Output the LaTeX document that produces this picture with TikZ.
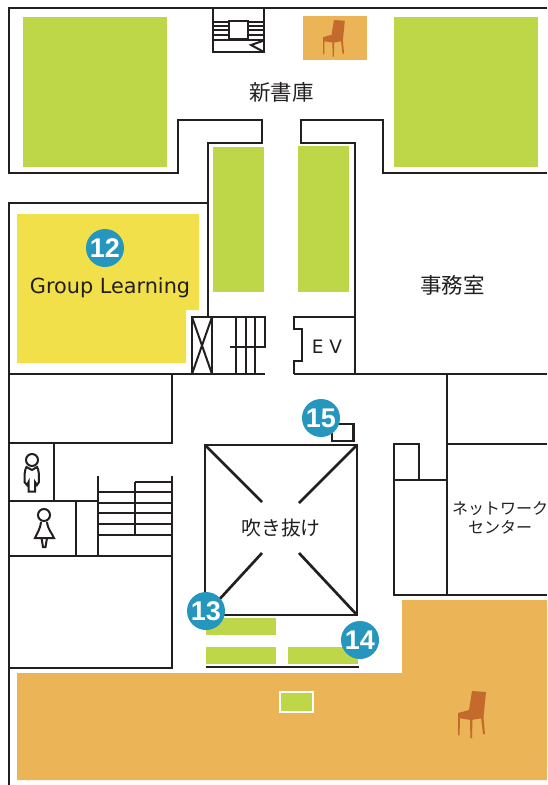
\documentclass[tikz,border=0pt]{standalone}
\usepackage{fontspec}
\setmainfont{DejaVu Sans}
\newfontfamily\cjkfont{Noto Sans CJK JP}[Scale=1]
\newfontfamily\numfont{Liberation Sans}[Scale=1]
\definecolor{wall}{HTML}{231F20}
\definecolor{shelf}{HTML}{BDD748}
\definecolor{lounge}{HTML}{EAB457}
\definecolor{chairc}{HTML}{C46A2C}
\definecolor{learn}{HTML}{F2E04A}
\definecolor{badge}{HTML}{2596BE}
\tikzset{
  wallline/.style={draw=wall,line width=2.7pt,line join=miter},
  thinline/.style={draw=wall,line width=2pt},
  shelfbox/.style={fill=shelf,draw=none},
  loungebox/.style={fill=lounge,draw=none},
  badgenode/.style={circle,fill=badge,draw=none,minimum size=38pt,inner sep=0pt,text=white,font=\numfont\bfseries\fontsize{27}{27}\selectfont},
  jplabel/.style={text=wall,inner sep=0pt,align=center},
  chairpic/.pic={
    \fill[chairc] (14,0) -- (28,1) -- (25.5,26) -- (25,27) -- (13,29) -- (0,27) -- (0,22) -- (11,19) -- cycle;
    \fill[chairc] (0,26) -- (2,26) -- (1.6,44) -- (0.2,44) -- cycle;
    \fill[chairc] (12,28) -- (14.5,28) -- (14,47) -- (12.4,47) -- cycle;
    \fill[chairc] (23,26) -- (25.5,26) -- (27,43) -- (25,43) -- cycle;
  }
}
\begin{document}
\begin{tikzpicture}[x=1pt,y=-1pt]
\useasboundingbox (0,0) rectangle (547,785);
\fill[white] (0,0) rectangle (547,785);
% coloured areas
\fill[shelfbox] (23,17) rectangle (167,167);
\fill[shelfbox] (394,17) rectangle (538,167);
\fill[shelfbox] (213,147) rectangle (264,292);
\fill[shelfbox] (298,146) rectangle (349,292);
\fill[learn] (17,214) -- (199,214) -- (199,310) -- (186,310) -- (186,363) -- (17,363) -- cycle;
\fill[loungebox] (303,16) rectangle (367,60);
\fill[loungebox] (402,600) -- (547,600) -- (547,780) -- (17,780) -- (17,673) -- (402,673) -- cycle;
\fill[shelfbox] (206,618) rectangle (276,635);
\fill[shelfbox] (206,647) rectangle (276,664);
\fill[shelfbox] (288,647) rectangle (358,664);
\draw[white,line width=2pt,fill=shelf] (280,691.5) rectangle (312.5,711.5);
% upper outline
\draw[wallline] (547,8) -- (9,8) -- (9,173) -- (178,173) -- (178,120) -- (262,120) -- (262,143) -- (208,143) -- (208,317);
\draw[wallline] (547,173) -- (383,173) -- (383,120) -- (301,120) -- (301,143) -- (355,143) -- (355,374);
\draw[wallline] (208,203) -- (9,203) -- (9,785);
\draw[wallline] (9,374) -- (265,374);
\draw[wallline] (294,374) -- (547,374);
% top stair
\draw[thinline] (213,8) -- (213,52) -- (264,52) -- (264,8);
\draw[thinline] (213,40) -- (264,40);
\draw[thinline] (229,21) rectangle (248,39);
\foreach \yy in {22,26,30,35}{\draw[thinline] (213,\yy) -- (229,\yy); \draw[thinline] (248,\yy) -- (264,\yy);}
\draw[thinline] (264,40.5) -- (251,45) -- (264,52);
% lower-left stair block
\draw[wallline] (192,317) rectangle (212,374);
\draw[thinline] (192,317) -- (212,374);
\draw[thinline] (212,317) -- (192,374);
\draw[thinline] (212,317) -- (265,317) -- (265,347) -- (230,347);
\foreach \xx in {236,246,255}{\draw[thinline] (\xx,317) -- (\xx,374);}
% EV
\draw[wallline] (355,317) -- (294,317) -- (294,329) -- (302,329) -- (302,361) -- (294,361) -- (294,374);
% small box
\draw[wallline] (332,424) rectangle (353.5,441);
% atrium
\draw[wallline] (205,445) rectangle (357,615);
\draw[wallline] (205,445) -- (262,502);
\draw[wallline] (357,445) -- (299,503);
\draw[wallline] (205,615) -- (262,553);
\draw[wallline] (357,615) -- (299,553);
% left block
\draw[wallline] (172,374) -- (172,443) -- (9,443);
\draw[wallline] (54,443) -- (54,501);
\draw[wallline] (9,501) -- (98,501);
\draw[wallline] (76,501) -- (76,556);
\draw[wallline] (98,476) -- (98,556);
\draw[wallline] (172,476) -- (172,668) -- (9,668);
\draw[wallline] (9,556) -- (172,556);
\draw[thinline] (135,482) -- (171,482);
\draw[thinline] (135,482) -- (135,535);
\foreach \yy in {492,503,513,524,535}{\draw[thinline] (98,\yy) -- (171,\yy);}
% right block
\draw[wallline] (447,374) -- (447,595);
\draw[wallline] (447,444) -- (547,444);
\draw[wallline] (394,480) -- (447,480);
\draw[wallline] (394,480) -- (394,444) -- (419,444) -- (419,480);
\draw[wallline] (394,480) -- (394,595) -- (547,595);
% bench line
\draw[thinline] (206,667) -- (359,667);
% toilet icons
\draw[thinline] (32,460) circle (6);
\draw[thinline] (26.5,467) .. controls (24.5,470) and (24.5,475) .. (24.5,482) -- (27,485) -- (28.5,482) -- (28.5,491.5) -- (35,491.5) -- (35,482) -- (37,485) -- (39,482) .. controls (39,475) and (39,470) .. (37,467) -- (32,470) -- cycle;
\draw[thinline] (44,515) circle (6);
\draw[thinline] (41,522) .. controls (40,530) and (37,533) .. (35,538) -- (54,538) .. controls (52,533) and (48,530) .. (47,522);
\draw[thinline] (41.5,538) -- (43,547) -- (45.5,547) -- (47,538);
% chairs
\pic[scale=.78,x=1pt,y=-1pt] at (323,20) {chairpic};
\pic[x=1pt,y=-1pt] at (458,691) {chairpic};
% labels
\node[jplabel,font=\cjkfont\fontsize{21.5}{21.5}\selectfont] (shinshoko) at (281.5,92) {新書庫};
\node[jplabel,font=\cjkfont\fontsize{21.5}{21.5}\selectfont] (jimushitsu) at (452.5,285) {事務室};
\node[jplabel,font=\cjkfont\fontsize{19.8}{19.8}\selectfont] (fukinuke) at (281,528) {吹き抜け};
\node[jplabel,font=\cjkfont\fontsize{16}{19}\selectfont] (network) at (500,518) {ネットワーク\\センター};
\node[text=wall,inner sep=0pt,font=\fontsize{18.5}{18.5}\selectfont] (ev) at (327,347) {E V};
\node[text=wall,inner sep=0pt,font=\fontsize{20.8}{20.8}\selectfont] (group) at (110,288) {Group Learning};
% badges
\node[badgenode] (b12) at (105,248) {12};
\node[badgenode] (b15) at (321,418) {15};
\node[badgenode] (b13) at (206,611) {13};
\node[badgenode] (b14) at (360,640) {14};
\end{tikzpicture}
\end{document}
